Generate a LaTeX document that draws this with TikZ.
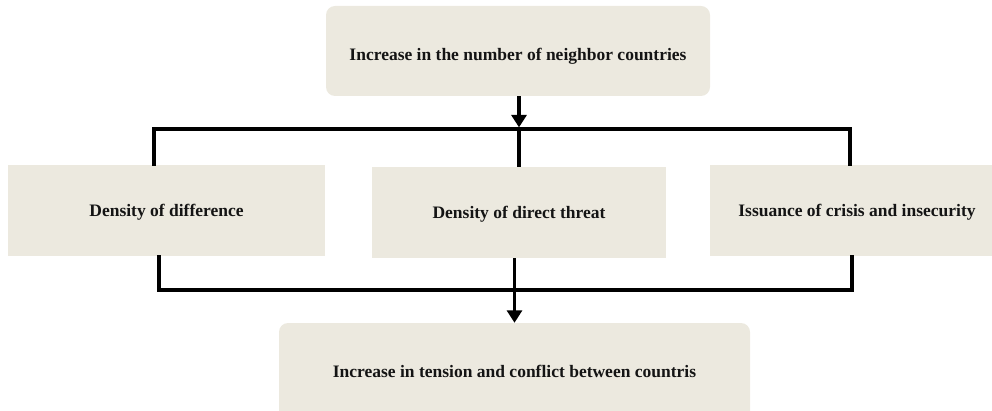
\documentclass[tikz,border=0pt]{standalone}
\usepackage{fontspec}
\setmainfont{Liberation Serif}
\usetikzlibrary{arrows.meta}
\definecolor{boxfill}{RGB}{236,233,223}
\definecolor{txt}{RGB}{20,20,20}
\tikzset{
  box/.style={fill=boxfill, draw=none, inner sep=0pt, text=txt,
    font=\fontsize{17.5}{20}\selectfont\bfseries, text depth=5pt},
  rbox/.style={box, rounded corners=9pt},
  wire/.style={draw=black, line width=3.2pt},
  arr/.style={wire, -{Triangle[length=12.5pt,width=15pt]}}
}
\begin{document}
\begin{tikzpicture}[x=1pt,y=-1pt]
\useasboundingbox (0,0) rectangle (992,411);
\node[rbox, minimum width=384pt, minimum height=90pt, text height=24.4pt] (top) at (518,51) {Increase in the number of neighbor countries};
\node[box, minimum width=317pt, minimum height=91pt, text height=18pt] (left) at (166.5,210.5) {Density of difference};
\node[box, minimum width=294pt, minimum height=91pt, text height=18pt] (mid) at (519,212.5) {Density of direct threat};
\node[box, minimum width=282pt, minimum height=91pt, text height=18pt] (right) at (851,210.5) {\hspace*{12pt}Issuance of crisis and insecurity};
\node[rbox, minimum width=471pt, minimum height=100pt, text height=14.4pt] (bot) at (514.5,373) {Increase in tension and conflict between countris};
\coordinate (tl) at (154,129);
\coordinate (tr) at (850,129);
\coordinate (bl) at (159,290);
\coordinate (br) at (852,290);
\draw[wire, line cap=rect] (left.north -| tl) -- (tl) -- (tr) -- (tr |- right.north);
\draw[wire] (tl -| mid.north) -- (mid.north);
\draw[arr, shorten >=1.6pt] (top.south -| mid.north) -- (tl -| mid.north);
\draw[wire, line cap=rect] (left.south -| bl) -- (bl) -- (br) -- (br |- right.south);
\draw[arr] (mid.south -| bot.north) -- (bot.north);
\end{tikzpicture}
\end{document}
